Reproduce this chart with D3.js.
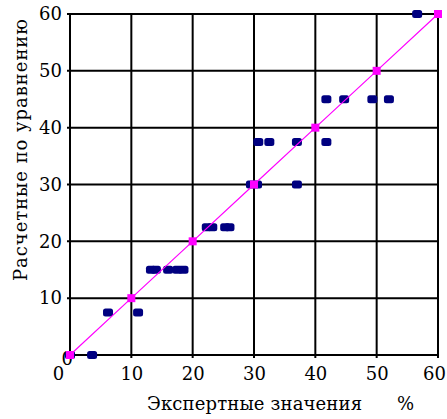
<html lang="ru">
<head>
<meta charset="utf-8">
<style>
body { margin: 0; background: #fff; }
</style>
</head>
<body>
<script src="https://d3js.org/d3.v7.min.js"></script>
<script>
// expert values (x) and values computed by the equation (y)
const expertX = [0, 3.6, 6.2, 11.1, 13.2, 14, 16, 17.5, 18.5, 22.3, 23.2, 25.3, 26,
  29.5, 30.5, 37, 30.7, 32.5, 37, 41.8, 41.8, 44.7, 49.3, 52, 56.6];
const calcY = [0, 0, 7.5, 7.5, 15, 15, 15, 15, 15, 22.5, 22.5, 22.5, 22.5,
  30, 30, 30, 37.5, 37.5, 37.5, 37.5, 45, 45, 45, 45, 60];
const lineVals = [0, 10, 20, 30, 40, 50, 60];
const ticks = [0, 10, 20, 30, 40, 50, 60];

const W = 447, H = 419;
const margin = {top: 14, right: 9, bottom: 64, left: 70};
const width = W - margin.left - margin.right;
const height = H - margin.top - margin.bottom;
const FONT = "DejaVu Serif, serif";

var svg = d3.select("body").append("svg")
  .attr("width", W)
  .attr("height", H)
  .style("font-family", FONT)
  .append("g")
  .attr("transform", "translate(" + margin.left + "," + margin.top + ")");

var x = d3.scaleLinear().domain([0, 60]).range([0, width]);
var y = d3.scaleLinear().domain([0, 60]).range([height, 0]);

// grid
svg.append("g").selectAll("line").data(ticks).enter().append("line")
  .attr("x1", d => x(d)).attr("x2", d => x(d))
  .attr("y1", 0).attr("y2", height + 3)
  .attr("stroke", "#000").attr("stroke-width", 2);
svg.append("g").selectAll("line").data(ticks).enter().append("line")
  .attr("y1", d => y(d)).attr("y2", d => y(d))
  .attr("x1", -3).attr("x2", width)
  .attr("stroke", "#000").attr("stroke-width", 2);

// tick labels
var xa = svg.append("g").attr("transform", "translate(0," + height + ")")
  .call(d3.axisBottom(x).tickValues(ticks).tickSize(0).tickPadding(12));
var ya = svg.append("g")
  .call(d3.axisLeft(y).tickValues(ticks).tickSize(0).tickPadding(8));
[xa, ya].forEach(a => {
  a.attr("font-family", null).attr("font-size", 18);
  a.select(".domain").remove();
  a.selectAll("text").attr("fill", "#000").style("font-family", FONT);
});
xa.selectAll("text").filter(d => d === 0).attr("x", -12);
xa.selectAll("text").filter(d => d === 60).attr("x", -4);
ya.selectAll("text").filter(d => d === 0).attr("x", 3).attr("dy", "0.5em");

// points
svg.append("g").selectAll("rect").data(expertX).enter().append("rect")
  .attr("x", d => x(d) - 5)
  .attr("y", (d, i) => y(calcY[i]) - 4)
  .attr("width", 10).attr("height", 8).attr("rx", 2.5)
  .attr("fill", "#000080");

// ideal line
svg.append("path").datum(lineVals)
  .attr("fill", "none").attr("stroke", "#ff00ff").attr("stroke-width", 1.2)
  .attr("d", d3.line().x(d => x(d)).y(d => y(d)));
svg.append("g").selectAll("rect").data(lineVals).enter().append("rect")
  .attr("x", d => x(d) - 4).attr("y", d => y(d) - 4)
  .attr("width", 8).attr("height", 8)
  .attr("fill", "#ff00ff");

// titles
svg.append("text")
  .attr("x", 77).attr("y", height + 55)
  .attr("font-size", 18)
  .attr("textLength", 215).attr("lengthAdjust", "spacing")
  .text("Экспертные значения");
svg.append("text")
  .attr("x", 327).attr("y", height + 55)
  .attr("font-size", 18)
  .text("%");
svg.append("text")
  .attr("transform", "translate(-43," + (height - 74) + ") rotate(-90)")
  .attr("font-size", 18)
  .attr("textLength", 262).attr("lengthAdjust", "spacing")
  .text("Расчетные по уравнению");
</script>
</body>
</html>
